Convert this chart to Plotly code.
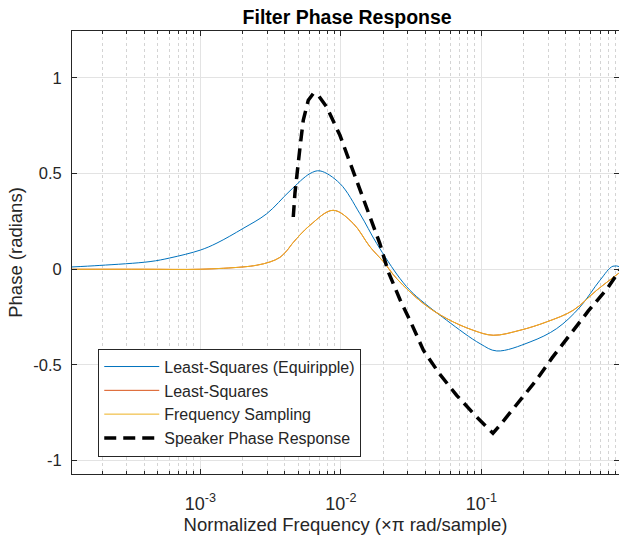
import plotly.graph_objects as go

# Normalized frequency (x pi rad/sample) and phase (radians)
freq_eq = [0.000122, 0.000193, 0.000439, 0.000608, 0.001, 0.001315, 0.002014, 0.00297,
           0.00435, 0.00604, 0.00711, 0.00986, 0.01368, 0.01803, 0.02642, 0.0328,
           0.0568, 0.098, 0.1288, 0.2223, 0.344, 0.505, 0.700, 0.865, 1.0]
phase_eq = [0.012, 0.02, 0.04, 0.059, 0.10, 0.137, 0.213, 0.29,
            0.41, 0.50, 0.514, 0.448, 0.29, 0.134, -0.049, -0.127,
            -0.267, -0.389, -0.427, -0.38, -0.31, -0.197, -0.057, 0.016, 0.01]

freq_fs = [0.000122, 0.0004, 0.001, 0.00201, 0.00252, 0.00313, 0.00369, 0.00414,
           0.00459, 0.00604, 0.00881, 0.01227, 0.01614, 0.02006, 0.025, 0.0387,
           0.0568, 0.0877, 0.1216, 0.1884, 0.2922, 0.4519, 0.6622, 0.955, 1.0]
phase_fs = [0.0, 0.0, 0.0, 0.012, 0.021, 0.038, 0.062, 0.098,
            0.14, 0.23, 0.308, 0.239, 0.117, 0.04, -0.049, -0.179,
            -0.258, -0.319, -0.345, -0.319, -0.275, -0.214, -0.11, -0.02, -0.01]

freq_ls = list(freq_fs)
phase_ls = list(phase_fs)

freq_spk = [0.00459, 0.00472, 0.00513, 0.00541, 0.00587, 0.00637, 0.0069, 0.00794,
            0.00986, 0.01368, 0.0161, 0.01897, 0.02178, 0.0264, 0.032, 0.0387,
            0.0502, 0.0668, 0.0927, 0.1007, 0.1211, 0.1358, 0.1833, 0.2438,
            0.3199, 0.4276, 0.5776, 0.7803, 1.0]
phase_spk = [0.273, 0.40, 0.64, 0.78, 0.883, 0.918, 0.91, 0.848,
             0.70, 0.413, 0.273, 0.134, -0.014, -0.159, -0.288, -0.423,
             -0.545, -0.659, -0.772, -0.798, -0.857, -0.815, -0.697, -0.584,
             -0.462, -0.34, -0.218, -0.105, 0.01]

x_tickvals = [0.001, 0.01, 0.1]
x_ticktext = ["10<sup>-3</sup>", "10<sup>-2</sup>", "10<sup>-1</sup>"]
y_tickvals = [-1, -0.5, 0, 0.5, 1]
y_ticktext = ["-1", "-0.5", "0", "0.5", "1"]

FONT = "Liberation Sans, Arial, Helvetica, sans-serif"
INK = "#262626"

fig = go.Figure()
fig.add_trace(go.Scatter(x=freq_eq, y=phase_eq, mode="lines", name="Least-Squares (Equiripple)",
                         line=dict(color="#0072BD", width=1, shape="spline", smoothing=1.0)))
fig.add_trace(go.Scatter(x=freq_ls, y=phase_ls, mode="lines", name="Least-Squares",
                         line=dict(color="#D95319", width=1, shape="spline", smoothing=1.0)))
fig.add_trace(go.Scatter(x=freq_fs, y=phase_fs, mode="lines", name="Frequency Sampling",
                         line=dict(color="#EDB120", width=1, shape="spline", smoothing=1.0)))
fig.add_trace(go.Scatter(x=freq_spk, y=phase_spk, mode="lines", name="Speaker Phase Response",
                         line=dict(color="black", width=3.5, dash="12px,7px")))

fig.update_layout(
    width=619, height=535,
    margin=dict(l=72, r=0, t=31, b=61),
    paper_bgcolor="white", plot_bgcolor="white",
    font=dict(family=FONT, size=16, color=INK),
    title=dict(text="<b>Filter Phase Response</b>", x=0.503, xref="paper", xanchor="center",
               y=1 - 17 / 535, yanchor="middle", font=dict(size=19.5, color="black")),
    legend=dict(x=0.048, y=0.283, xanchor="left", yanchor="top",
                bgcolor="white", bordercolor=INK, borderwidth=1,
                font=dict(size=16, color=INK), itemwidth=55, tracegroupgap=0),
    showlegend=True,
)

fig.update_xaxes(
    type="log", range=[-3.913, -0.020],
    tickmode="array", tickvals=x_tickvals, ticktext=x_ticktext,
    showline=True, linecolor=INK, linewidth=1, mirror="ticks",
    ticks="inside", ticklen=5, tickcolor=INK, ticklabelstandoff=13,
    showgrid=True, gridcolor="#e3e3e3", gridwidth=1,
    minor=dict(dtick="D1", ticks="inside", ticklen=3, tickcolor=INK,
               showgrid=True, gridcolor="#d4d4d4", griddash="dot", gridwidth=1),
    zeroline=False,
    tickfont=dict(size=18, color=INK),
    title=dict(text="Normalized Frequency (×π rad/sample)", font=dict(size=18.5, color=INK), standoff=5),
)
fig.update_yaxes(
    range=[-1.07, 1.245],
    tickmode="array", tickvals=y_tickvals, ticktext=y_ticktext,
    showline=True, linecolor=INK, linewidth=1, mirror="ticks",
    ticks="inside", ticklen=5, tickcolor=INK, ticklabelstandoff=6,
    showgrid=True, gridcolor="#e3e3e3", gridwidth=1,
    zeroline=False,
    tickfont=dict(size=16.5, color=INK),
    title=dict(text="Phase (radians)", font=dict(size=18.5, color=INK), standoff=5),
)

fig.write_html("out.html")
